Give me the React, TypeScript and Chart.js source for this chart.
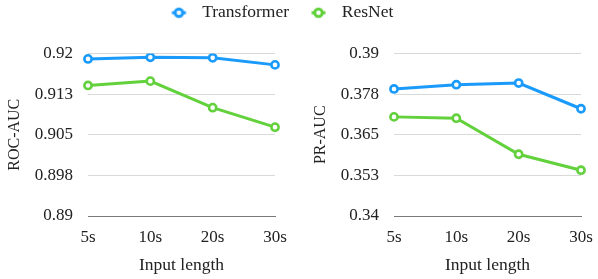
import React, { useEffect, useRef } from 'react';
import { Chart, registerables } from 'chart.js';

Chart.register(...registerables);

const inputLengths = ['5s', '10s', '20s', '30s'];
const seriesNames = ['Transformer', 'ResNet'];
const transformerRoc = [0.919, 0.9193, 0.9192, 0.9179];
const resnetRoc = [0.9141, 0.9149, 0.91, 0.9064];
const transformerPr = [0.3791, 0.3804, 0.3809, 0.373];
const resnetPr = [0.3705, 0.3701, 0.359, 0.3541];
const rocTickLabels = ['0.89', '0.898', '0.905', '0.913', '0.92'];
const prTickLabels = ['0.34', '0.353', '0.365', '0.378', '0.39'];
const rocRange = [0.89, 0.92];
const prRange = [0.34, 0.39];

const BLUE = '#1a9bfc';
const GREEN = '#62d13c';
const TEXT = '#222222';
const FONT = "'Liberation Serif', 'Times New Roman', serif";

function makeMarker(color: string): HTMLCanvasElement {
  const c = document.createElement('canvas');
  c.width = 29;
  c.height = 14;
  const g = c.getContext('2d')!;
  g.strokeStyle = color;
  g.lineWidth = 3;
  g.beginPath();
  g.moveTo(14.5 - 7, 7);
  g.lineTo(14.5 + 7, 7);
  g.stroke();
  g.beginPath();
  g.arc(14.5, 7, 3.8, 0, Math.PI * 2);
  g.fillStyle = '#ffffff';
  g.fill();
  g.stroke();
  return c;
}

const legendSpacer = {
  id: 'legendSpacer',
  beforeInit(chart: any) {
    const orig = chart.legend.fit;
    chart.legend.fit = function fit() {
      orig.bind(chart.legend)();
      this.height += 22;
    };
  },
};

interface PanelOpts {
  a: number[];
  b: number[];
  tickLabels: string[];
  range: number[];
  yTitle: string;
  legendIndex: number;
  legendAlign: 'start' | 'end';
  yWidth: number;
  titlePadTop: number;
  padRight: number;
  layoutRight: number;
}

function makeConfig(o: PanelOpts): any {
  const ds = (label: string, data: number[], color: string) => ({
    label,
    data,
    borderColor: color,
    backgroundColor: color,
    borderWidth: 3,
    pointRadius: 3.6,
    pointHoverRadius: 3.6,
    pointBorderWidth: 2.6,
    pointBackgroundColor: '#ffffff',
    pointBorderColor: color,
    tension: 0,
  });
  return {
    type: 'line',
    data: {
      labels: inputLengths,
      datasets: [ds(seriesNames[0], o.a, BLUE), ds(seriesNames[1], o.b, GREEN)],
    },
    plugins: [legendSpacer],
    options: {
      animation: false,
      responsive: false,
      layout: { padding: { left: 0, right: o.layoutRight, top: 0, bottom: 0 } },
      plugins: {
        tooltip: { enabled: false },
        legend: {
          display: true,
          position: 'top',
          align: o.legendAlign,
          labels: {
            filter: (item: any) => item.datasetIndex === o.legendIndex,
            usePointStyle: true,
            pointStyle: makeMarker(o.legendIndex === 0 ? BLUE : GREEN),
            pointStyleWidth: 29,
            padding: 4,
            color: TEXT,
            font: { family: FONT, size: 17.5 },
          },
        },
      },
      scales: {
        x: {
          type: 'category',
          offset: false,
          grid: { display: false, drawTicks: false },
          border: { display: true, color: '#7a7a7a', width: 1 },
          ticks: {
            padding: 11,
            maxRotation: 0,
            autoSkip: false,
            color: TEXT,
            font: { family: FONT, size: 17 },
          },
          title: {
            display: true,
            text: 'Input length',
            color: TEXT,
            font: { family: FONT, size: 17.5 },
            padding: { top: 6, bottom: 3 },
          },
          afterFit: (scale: any) => {
            scale.paddingRight = o.padRight;
            scale.height = 63;
          },
        },
        y: {
          type: 'linear',
          min: o.range[0],
          max: o.range[1],
          grid: {
            drawTicks: false,
            color: (ctx: any) => (ctx.index === 0 ? 'rgba(0,0,0,0)' : '#d9d9d9'),
            lineWidth: 1,
          },
          border: { display: false },
          ticks: {
            count: 5,
            padding: 15,
            color: TEXT,
            font: { family: FONT, size: 17 },
            callback: (_v: any, i: number) => o.tickLabels[i],
          },
          title: {
            display: true,
            text: o.yTitle,
            color: TEXT,
            font: { family: FONT, size: 16 },
            padding: { top: o.titlePadTop, bottom: 0 },
          },
          afterFit: (scale: any) => {
            scale.width = o.yWidth;
          },
        },
      },
    },
  };
}

export default function App() {
  const leftRef = useRef<HTMLCanvasElement>(null);
  const rightRef = useRef<HTMLCanvasElement>(null);

  useEffect(() => {
    document.body.style.margin = '0';
    const left = new Chart(
      leftRef.current!,
      makeConfig({
        a: transformerRoc,
        b: resnetRoc,
        tickLabels: rocTickLabels,
        range: rocRange,
        yTitle: 'ROC-AUC',
        legendIndex: 0,
        legendAlign: 'end',
        yWidth: 88,
        titlePadTop: 5.4,
        padRight: 25,
        layoutRight: 7,
      })
    );
    const right = new Chart(
      rightRef.current!,
      makeConfig({
        a: transformerPr,
        b: resnetPr,
        tickLabels: prTickLabels,
        range: prRange,
        yTitle: 'PR-AUC',
        legendIndex: 1,
        legendAlign: 'start',
        yWidth: 94,
        titlePadTop: 11.2,
        padRight: 17,
        layoutRight: 0,
      })
    );
    return () => {
      left.destroy();
      right.destroy();
    };
  }, []);

  return (
    <div style={{ position: 'absolute', left: 0, top: 0, width: 598, height: 279, background: '#ffffff' }}>
      <canvas ref={leftRef} width={300} height={279} style={{ position: 'absolute', left: 0, top: 0 }} />
      <canvas ref={rightRef} width={298} height={279} style={{ position: 'absolute', left: 300, top: 0 }} />
    </div>
  );
}
